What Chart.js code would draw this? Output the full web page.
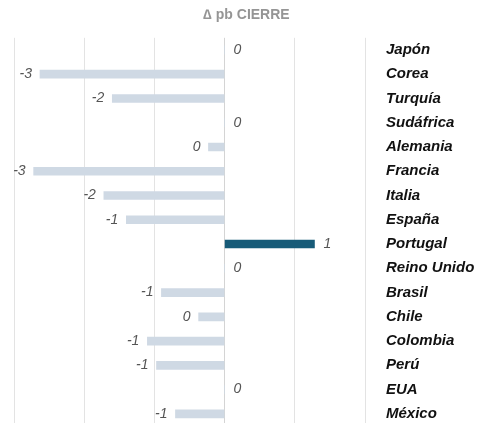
<!DOCTYPE html>
<html>
<head>
<meta charset="utf-8">
<script src="https://cdn.jsdelivr.net/npm/chart.js@4/dist/chart.umd.min.js"></script>
<style>
  html, body { margin: 0; padding: 0; background: #fff; overflow: hidden; }
  #wrap { width: 479px; height: 426px; position: relative; }
</style>
</head>
<body>
<div id="wrap"><canvas id="chart"></canvas></div>
<script>
const countries = ["Japón", "Corea", "Turquía", "Sudáfrica", "Alemania", "Francia", "Italia", "España",
  "Portugal", "Reino Unido", "Brasil", "Chile", "Colombia", "Perú", "EUA", "México"]
const changes = [0, -2.63, -1.6, 0, -0.23, -2.72, -1.72, -1.4, 1.28, 0, -0.9, -0.37, -1.1, -0.97, 0, -0.7]
const highlight = "Portugal"

const fontFamily = "'Liberation Sans', Arial, Helvetica, sans-serif"

// value labels next to the bar ends
const valueLabels = {
  id: "valueLabels",
  afterDatasetsDraw(chart) {
    const ctx = chart.ctx
    const meta = chart.getDatasetMeta(0)
    const x0 = chart.scales.x.getPixelForValue(0)
    ctx.save()
    ctx.font = "italic 14px " + fontFamily
    ctx.fillStyle = "#555"
    ctx.textBaseline = "middle"
    meta.data.forEach((bar, i) => {
      const v = changes[i]
      const txt = String(Math.round(v))
      if (v < 0) {
        ctx.textAlign = "right"
        ctx.fillText(txt, Math.min(bar.x, x0) - 8, bar.y)
      } else {
        ctx.textAlign = "left"
        ctx.fillText(txt, Math.max(bar.x, x0) + 9, bar.y)
      }
    })
    ctx.restore()
  }
}

new Chart(document.getElementById("chart"), {
  type: "bar",
  data: {
    labels: countries,
    datasets: [{
      data: changes,
      backgroundColor: countries.map(c => c === highlight ? "#175b78" : "#cfd9e4"),
      barThickness: 8,
      borderWidth: 0
    }]
  },
  options: {
    indexAxis: "y",
    responsive: true,
    maintainAspectRatio: false,
    animation: false,
    layout: { padding: { left: 14, right: 0, top: 0, bottom: 0 } },
    plugins: {
      legend: { display: false },
      tooltip: { enabled: false },
      title: {
        display: true,
        text: "∆ pb CIERRE",
        color: "#959595",
        font: { family: fontFamily, size: 14, weight: "bold" },
        padding: { top: 7, bottom: 14 }
      }
    },
    scales: {
      x: {
        min: -3,
        max: 2,
        ticks: { display: false, stepSize: 1 },
        border: { display: false },
        grid: {
          drawTicks: false,
          color: ctx => ctx.tick && ctx.tick.value === 0 ? "#d4d4d4" : "#e3e3e3"
        },
        afterFit: s => { s.height = 0 }
      },
      y: {
        position: "right",
        border: { display: false },
        grid: { display: false, drawTicks: false },
        ticks: {
          padding: 21,
          color: "#111",
          font: { family: fontFamily, size: 15, weight: "bold", style: "italic" }
        },
        afterFit: s => { s.width = 114; s.paddingTop = 0; s.paddingBottom = 0 }
      }
    }
  },
  plugins: [valueLabels]
})
</script>
</body>
</html>
